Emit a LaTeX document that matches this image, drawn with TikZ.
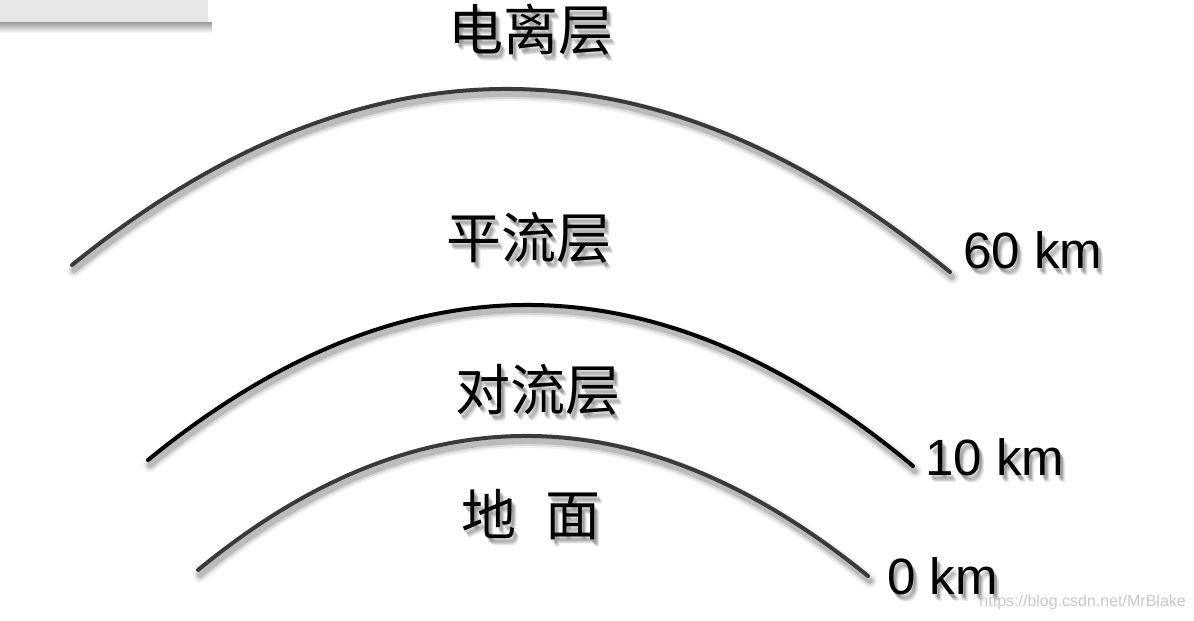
\documentclass[tikz,border=0pt]{standalone}
\usepackage{fontspec}
\setmainfont{Liberation Sans}
\newfontfamily\cjk{Noto Sans CJK SC}
\definecolor{arcgray}{HTML}{3A3A3A}
\definecolor{boxgray}{HTML}{E6E6E6}
\definecolor{wmgray}{HTML}{C8C8C8}
\tikzset{
  arcline/.style={line width=4pt, line cap=round},
  shadowA/.style={line width=14pt, line cap=round, draw=black, opacity=0.06},
  shadowB/.style={line width=10pt, line cap=round, draw=black, opacity=0.09},
  shadowC/.style={line width=6pt, line cap=round, draw=black, opacity=0.14},
  cjklabel/.style={font=\cjk\fontsize{55}{55}\selectfont, inner sep=0pt},
  kmlabel/.style={font=\fontsize{51}{51}\selectfont, inner sep=0pt, anchor=base west},
  txtshadow/.style={text=black, opacity=0.09},
}
\begin{document}
\begin{tikzpicture}[x=1pt,y=-1pt]
\useasboundingbox (0,0) rectangle (1194,621);
\fill[white] (0,0) rectangle (1194,621);
% top-left box
\shade[top color=black!40, bottom color=white] (0,22) rectangle (212,33);
\fill[boxgray] (0,0) rectangle (208,22);
% arc shadows
\begin{scope}[shift={(2,5)}]
\foreach \s in {shadowA,shadowB,shadowC}{
  \draw[\s] (72,265) .. controls (364.7,28) and (657.3,30.3) .. (950,272);
  \draw[\s] (148,460) .. controls (403.7,251.3) and (658.7,253.3) .. (913,466);
  \draw[\s] (198,570) .. controls (417.3,389.3) and (640.7,391.3) .. (868,576);
}
\end{scope}
% arcs
\draw[arcline, draw=arcgray] (72,265) .. controls (364.7,28) and (657.3,30.3) .. (950,272);
\draw[arcline, draw=black] (148,460) .. controls (403.7,251.3) and (658.7,253.3) .. (913,466);
\draw[arcline, draw=arcgray] (198,570) .. controls (417.3,389.3) and (640.7,391.3) .. (868,576);
% text shadows
\foreach \dx/\dy in {2/3,3/5,4/6,3/4,5/7}{
  \begin{scope}[shift={(\dx,\dy)}]
  \node[cjklabel, txtshadow] at (531,30) {电离层};
  \node[cjklabel, txtshadow] at (529,238) {平流层};
  \node[cjklabel, txtshadow] at (538,390) {对流层};
  \node[cjklabel, txtshadow] at (531,515) {地\hspace{30pt}面};
  \node[kmlabel, txtshadow] at (963,268) {60 km};
  \node[kmlabel, txtshadow] at (925,475) {10 km};
  \node[kmlabel, txtshadow] at (887,594) {0 km};
  \end{scope}
}
% labels
\node[cjklabel] (ion) at (531,30) {电离层};
\node[cjklabel] (strat) at (529,238) {平流层};
\node[cjklabel] (tropo) at (538,390) {对流层};
\node[cjklabel] (ground) at (531,515) {地\hspace{30pt}面};
\node[kmlabel] (km60) at (963,268) {60 km};
\node[kmlabel] (km10) at (925,475) {10 km};
\node[kmlabel] (km0) at (887,594) {0 km};
\node[font=\fontsize{16}{16}\selectfont, text=wmgray, inner sep=0pt, anchor=east] (wm) at (1186,602) {https://blog.csdn.net/MrBlake};
\end{tikzpicture}
\end{document}
